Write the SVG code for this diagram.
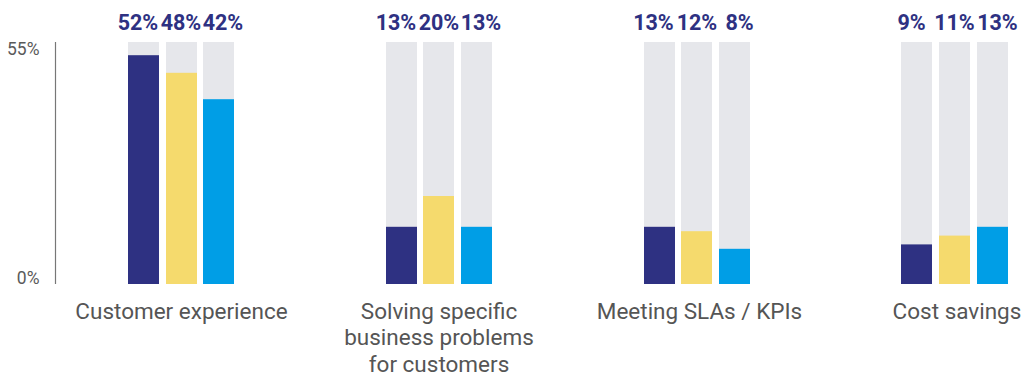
<svg xmlns="http://www.w3.org/2000/svg" width="1024" height="379" viewBox="0 0 1024 379">
<style>
.bg{fill:#e6e7eb}
.s1{fill:#2e3182}
.s2{fill:#f5da6d}
.s3{fill:#009ee6}
.val{font-family:Roboto,"Liberation Sans",sans-serif;font-weight:700;font-size:21.5px;fill:#2e3182;text-anchor:middle}
.cat{font-family:Roboto,"Liberation Sans",sans-serif;font-size:22.5px;fill:#555555;text-anchor:middle}
.ax{font-family:Roboto,"Liberation Sans",sans-serif;font-size:17.5px;fill:#5a5a5a;text-anchor:end}
</style>
<rect width="1024" height="379" fill="#ffffff"/>
<g id="axis">
<line x1="55.5" y1="42" x2="55.5" y2="284" stroke="#777777" stroke-width="1.2"/>
<text class="ax" x="39.5" y="54.5">55%</text>
<text class="ax" x="39.5" y="284">0%</text>
</g>
<g id="group-customer-experience">
<rect class="bg" x="128" y="42" width="31" height="242"/>
<rect class="bg" x="166" y="42" width="31" height="242"/>
<rect class="bg" x="203" y="42" width="31" height="242"/>
<rect class="s1" x="128" y="55.2" width="31" height="228.8"/>
<rect class="s2" x="166" y="72.8" width="31" height="211.2"/>
<rect class="s3" x="203" y="99.2" width="31" height="184.8"/>
<text class="val" x="138" y="30">52%</text>
<text class="val" x="181" y="30">48%</text>
<text class="val" x="223" y="30">42%</text>
<text class="cat" x="181.5" y="318.5">Customer experience</text>
</g>
<g id="group-solving-problems">
<rect class="bg" x="386" y="42" width="31" height="242"/>
<rect class="bg" x="423" y="42" width="31" height="242"/>
<rect class="bg" x="461" y="42" width="31" height="242"/>
<rect class="s1" x="386" y="226.8" width="31" height="57.2"/>
<rect class="s2" x="423" y="196" width="31" height="88"/>
<rect class="s3" x="461" y="226.8" width="31" height="57.2"/>
<text class="val" x="396" y="30">13%</text>
<text class="val" x="439" y="30">20%</text>
<text class="val" x="481" y="30">13%</text>
<text class="cat" x="439" y="318.5">Solving specific</text>
<text class="cat" x="439" y="345">business problems</text>
<text class="cat" x="439" y="371.5">for customers</text>
</g>
<g id="group-meeting-slas">
<rect class="bg" x="644" y="42" width="31" height="242"/>
<rect class="bg" x="681" y="42" width="31" height="242"/>
<rect class="bg" x="719" y="42" width="31" height="242"/>
<rect class="s1" x="644" y="226.8" width="31" height="57.2"/>
<rect class="s2" x="681" y="231.2" width="31" height="52.8"/>
<rect class="s3" x="719" y="248.8" width="31" height="35.2"/>
<text class="val" x="653.5" y="30">13%</text>
<text class="val" x="697" y="30">12%</text>
<text class="val" x="739.5" y="30">8%</text>
<text class="cat" x="699.5" y="318.5">Meeting SLAs / KPIs</text>
</g>
<g id="group-cost-savings">
<rect class="bg" x="901" y="42" width="31" height="242"/>
<rect class="bg" x="939" y="42" width="31" height="242"/>
<rect class="bg" x="977" y="42" width="31" height="242"/>
<rect class="s1" x="901" y="244.4" width="31" height="39.6"/>
<rect class="s2" x="939" y="235.6" width="31" height="48.4"/>
<rect class="s3" x="977" y="226.8" width="31" height="57.2"/>
<text class="val" x="911.5" y="30">9%</text>
<text class="val" x="954.5" y="30">11%</text>
<text class="val" x="997.5" y="30">13%</text>
<text class="cat" x="957" y="318.5">Cost savings</text>
</g>
</svg>
